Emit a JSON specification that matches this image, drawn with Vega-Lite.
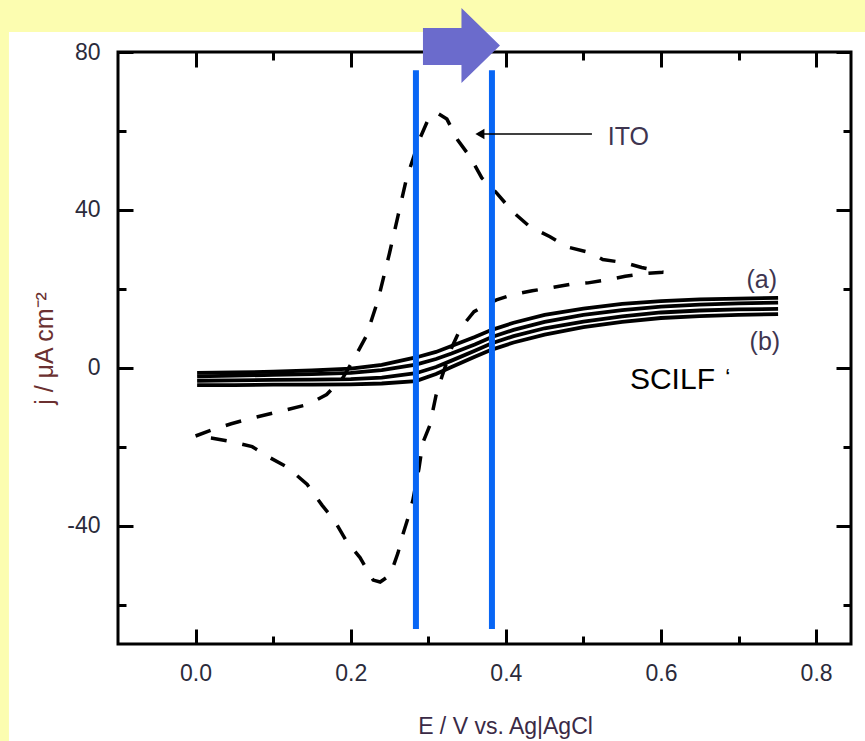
{
  "$schema": "https://vega.github.io/schema/vega-lite/v6.json",
  "width": 733,
  "height": 592,
  "autosize": "none",
  "padding": {"left": 118, "top": 52, "right": 14, "bottom": 97},
  "background": "#ffffff",
  "config": {
    "view": {"stroke": "#000000", "strokeWidth": 3, "fill": "#ffffff"},
    "font": "Liberation Sans"
  },
  "datasets": {
    "ito": [
      {"i": 0, "E": 0.000, "j": -17.3}, {"i": 1, "E": 0.022, "j": -15.7}, {"i": 2, "E": 0.046, "j": -14.2},
      {"i": 3, "E": 0.072, "j": -12.8}, {"i": 4, "E": 0.110, "j": -11.0}, {"i": 5, "E": 0.145, "j": -9.3},
      {"i": 6, "E": 0.169, "j": -6.8}, {"i": 7, "E": 0.190, "j": -2.5}, {"i": 8, "E": 0.205, "j": 2.5},
      {"i": 9, "E": 0.220, "j": 8.0}, {"i": 10, "E": 0.235, "j": 17.0}, {"i": 11, "E": 0.250, "j": 29.0},
      {"i": 12, "E": 0.261, "j": 38.5}, {"i": 13, "E": 0.272, "j": 48.0}, {"i": 14, "E": 0.289, "j": 58.0},
      {"i": 15, "E": 0.299, "j": 62.5}, {"i": 16, "E": 0.311, "j": 64.6}, {"i": 17, "E": 0.324, "j": 63.0},
      {"i": 18, "E": 0.338, "j": 57.7}, {"i": 19, "E": 0.354, "j": 53.4}, {"i": 20, "E": 0.369, "j": 48.1},
      {"i": 21, "E": 0.388, "j": 44.3}, {"i": 22, "E": 0.409, "j": 39.5}, {"i": 23, "E": 0.431, "j": 35.7},
      {"i": 24, "E": 0.457, "j": 33.2}, {"i": 25, "E": 0.479, "j": 30.6}, {"i": 26, "E": 0.508, "j": 29.2},
      {"i": 27, "E": 0.525, "j": 27.4}, {"i": 28, "E": 0.554, "j": 26.6}, {"i": 29, "E": 0.575, "j": 25.4},
      {"i": 30, "E": 0.603, "j": 24.2}, {"i": 31, "E": 0.580, "j": 23.9}, {"i": 32, "E": 0.554, "j": 23.2},
      {"i": 33, "E": 0.532, "j": 22.3}, {"i": 34, "E": 0.506, "j": 21.5}, {"i": 35, "E": 0.485, "j": 21.2},
      {"i": 36, "E": 0.459, "j": 20.3}, {"i": 37, "E": 0.434, "j": 19.5}, {"i": 38, "E": 0.408, "j": 18.5},
      {"i": 39, "E": 0.388, "j": 17.2}, {"i": 40, "E": 0.370, "j": 15.5}, {"i": 41, "E": 0.359, "j": 14.2},
      {"i": 42, "E": 0.342, "j": 10.1}, {"i": 43, "E": 0.330, "j": 5.0}, {"i": 44, "E": 0.318, "j": -2.0},
      {"i": 45, "E": 0.310, "j": -7.0}, {"i": 46, "E": 0.302, "j": -14.6}, {"i": 47, "E": 0.293, "j": -19.0},
      {"i": 48, "E": 0.288, "j": -25.5}, {"i": 49, "E": 0.280, "j": -33.7}, {"i": 50, "E": 0.274, "j": -38.0},
      {"i": 51, "E": 0.267, "j": -42.4}, {"i": 52, "E": 0.261, "j": -46.9}, {"i": 53, "E": 0.251, "j": -52.5},
      {"i": 54, "E": 0.238, "j": -54.3}, {"i": 55, "E": 0.229, "j": -53.8}, {"i": 56, "E": 0.212, "j": -48.1},
      {"i": 57, "E": 0.195, "j": -44.1}, {"i": 58, "E": 0.180, "j": -39.0}, {"i": 59, "E": 0.163, "j": -34.8},
      {"i": 60, "E": 0.144, "j": -29.6}, {"i": 61, "E": 0.119, "j": -25.3}, {"i": 62, "E": 0.096, "j": -22.8},
      {"i": 63, "E": 0.073, "j": -20.0}, {"i": 64, "E": 0.046, "j": -18.7}, {"i": 65, "E": 0.020, "j": -17.8},
      {"i": 66, "E": 0.000, "j": -17.3}
    ],
    "scilf": [
      {"s": "a1", "E": 0.002, "j": -1.3}, {"s": "a1", "E": 0.05, "j": -1.2}, {"s": "a1", "E": 0.1, "j": -1.0},
      {"s": "a1", "E": 0.15, "j": -0.7}, {"s": "a1", "E": 0.2, "j": -0.2}, {"s": "a1", "E": 0.24, "j": 0.7},
      {"s": "a1", "E": 0.284, "j": 2.6}, {"s": "a1", "E": 0.31, "j": 4.0}, {"s": "a1", "E": 0.33, "j": 5.5},
      {"s": "a1", "E": 0.36, "j": 7.8}, {"s": "a1", "E": 0.382, "j": 9.6}, {"s": "a1", "E": 0.41, "j": 11.4},
      {"s": "a1", "E": 0.45, "j": 13.4}, {"s": "a1", "E": 0.5, "j": 15.0}, {"s": "a1", "E": 0.55, "j": 16.2},
      {"s": "a1", "E": 0.6, "j": 16.9}, {"s": "a1", "E": 0.65, "j": 17.3}, {"s": "a1", "E": 0.7, "j": 17.5},
      {"s": "a1", "E": 0.751, "j": 17.7},
      {"s": "a2", "E": 0.002, "j": -2.2}, {"s": "a2", "E": 0.05, "j": -2.0}, {"s": "a2", "E": 0.1, "j": -1.8},
      {"s": "a2", "E": 0.15, "j": -1.6}, {"s": "a2", "E": 0.2, "j": -1.3}, {"s": "a2", "E": 0.24, "j": -0.6},
      {"s": "a2", "E": 0.284, "j": 0.8}, {"s": "a2", "E": 0.31, "j": 2.2}, {"s": "a2", "E": 0.33, "j": 3.6},
      {"s": "a2", "E": 0.36, "j": 5.9}, {"s": "a2", "E": 0.382, "j": 7.8}, {"s": "a2", "E": 0.41, "j": 9.6},
      {"s": "a2", "E": 0.45, "j": 11.6}, {"s": "a2", "E": 0.5, "j": 13.4}, {"s": "a2", "E": 0.55, "j": 14.6},
      {"s": "a2", "E": 0.6, "j": 15.5}, {"s": "a2", "E": 0.65, "j": 16.0}, {"s": "a2", "E": 0.7, "j": 16.3},
      {"s": "a2", "E": 0.751, "j": 16.5},
      {"s": "b1", "E": 0.002, "j": -3.3}, {"s": "b1", "E": 0.05, "j": -3.2}, {"s": "b1", "E": 0.1, "j": -3.1},
      {"s": "b1", "E": 0.15, "j": -3.0}, {"s": "b1", "E": 0.2, "j": -2.9}, {"s": "b1", "E": 0.24, "j": -2.5},
      {"s": "b1", "E": 0.284, "j": -1.4}, {"s": "b1", "E": 0.31, "j": 0.2}, {"s": "b1", "E": 0.33, "j": 1.8},
      {"s": "b1", "E": 0.36, "j": 4.3}, {"s": "b1", "E": 0.382, "j": 6.2}, {"s": "b1", "E": 0.41, "j": 8.0},
      {"s": "b1", "E": 0.45, "j": 10.0}, {"s": "b1", "E": 0.5, "j": 11.7}, {"s": "b1", "E": 0.55, "j": 13.0},
      {"s": "b1", "E": 0.6, "j": 14.0}, {"s": "b1", "E": 0.65, "j": 14.5}, {"s": "b1", "E": 0.7, "j": 14.8},
      {"s": "b1", "E": 0.751, "j": 14.9},
      {"s": "b2", "E": 0.002, "j": -4.4}, {"s": "b2", "E": 0.05, "j": -4.4}, {"s": "b2", "E": 0.1, "j": -4.3},
      {"s": "b2", "E": 0.15, "j": -4.3}, {"s": "b2", "E": 0.2, "j": -4.2}, {"s": "b2", "E": 0.24, "j": -4.0},
      {"s": "b2", "E": 0.284, "j": -3.4}, {"s": "b2", "E": 0.31, "j": -1.6}, {"s": "b2", "E": 0.33, "j": 0.2},
      {"s": "b2", "E": 0.36, "j": 2.8}, {"s": "b2", "E": 0.382, "j": 4.6}, {"s": "b2", "E": 0.41, "j": 6.4},
      {"s": "b2", "E": 0.45, "j": 8.4}, {"s": "b2", "E": 0.5, "j": 10.3}, {"s": "b2", "E": 0.55, "j": 11.6},
      {"s": "b2", "E": 0.6, "j": 12.6}, {"s": "b2", "E": 0.65, "j": 13.1}, {"s": "b2", "E": 0.7, "j": 13.4},
      {"s": "b2", "E": 0.751, "j": 13.6}
    ],
    "vlines": [
      {"E": 0.2841, "jTop": 75.4, "jBottom": -66.2},
      {"E": 0.3821, "jTop": 75.4, "jBottom": -66.2}
    ],
    "notes": [
      {"label": "ITO", "E": 0.558, "j": 58.5},
      {"label": "(a)", "E": 0.730, "j": 22.2},
      {"label": "(b)", "E": 0.734, "j": 6.5}
    ],
    "notes2": [
      {"label": "SCILF", "E": 0.560, "j": -3.1}
    ],
    "notes3": [
      {"label": "‘", "E": 0.686, "j": -2.2}
    ],
    "leader": [
      {"E": 0.370, "E2": 0.511, "j": 59.2}
    ],
    "arrowhead": [
      {"E": 0.3666, "j": 59.2}
    ],
    "bigarrow": [
      {"E": 0.3428, "j": 81.65}
    ]
  },
  "layer": [
    {
      "data": {"values": [{}]},
      "mark": {"type": "rect", "color": "#FCFDB0", "clip": false},
      "encoding": {
        "x": {"datum": -0.3, "type": "quantitative", "scale": {"domain": [-0.1, 0.845], "nice": false, "zero": false}, "axis": null},
        "x2": {"datum": 0.95},
        "y": {"datum": 100, "type": "quantitative", "scale": {"domain": [-70, 80], "nice": false, "zero": false}, "axis": null},
        "y2": {"datum": 85.08}
      }
    },
    {
      "data": {"values": [{}]},
      "mark": {"type": "rect", "color": "#FCFDB0", "clip": false},
      "encoding": {
        "x": {"datum": -0.3, "type": "quantitative", "axis": null},
        "x2": {"datum": -0.2406},
        "y": {"datum": 100, "type": "quantitative", "axis": null},
        "y2": {"datum": -110}
      }
    },
    {
      "data": {"name": "scilf"},
      "mark": {"type": "line", "color": "#000000", "strokeWidth": 3.8},
      "encoding": {
        "x": {"field": "E", "type": "quantitative", "scale": {"domain": [-0.1, 0.845], "nice": false, "zero": false},
          "axis": {
            "orient": "top", "values": [0, 0.1, 0.2, 0.3, 0.4, 0.5, 0.6, 0.7, 0.8],
            "labels": false, "domain": false, "grid": false, "title": null,
            "tickColor": "#000000", "tickWidth": 3,
            "tickSize": {"condition": {"test": "round(datum.value*10)%2==0", "value": -15}, "value": -8}
          }
        },
        "y": {"field": "j", "type": "quantitative", "scale": {"domain": [-70, 80], "nice": false, "zero": false},
          "axis": {
            "orient": "right", "values": [-60, -40, -20, 0, 20, 40, 60, 80],
            "labels": false, "domain": false, "grid": false, "title": null,
            "tickColor": "#000000", "tickWidth": 3,
            "tickSize": {"condition": {"test": "datum.value%40==0", "value": -15}, "value": -8}
          }
        },
        "detail": {"field": "s"}
      }
    },
    {
      "data": {"name": "ito"},
      "mark": {"type": "line", "color": "#000000", "strokeWidth": 3.5, "strokeDash": [16, 16]},
      "encoding": {
        "x": {"field": "E", "type": "quantitative", "scale": {"domain": [-0.1, 0.845], "nice": false, "zero": false},
          "axis": {
            "orient": "bottom", "values": [0, 0.1, 0.2, 0.3, 0.4, 0.5, 0.6, 0.7, 0.8],
            "labelExpr": "round(datum.value*10)%2==0 ? format(datum.value,'.1f') : ''",
            "domain": false, "grid": false,
            "tickColor": "#000000", "tickWidth": 3,
            "tickSize": {"condition": {"test": "round(datum.value*10)%2==0", "value": -15}, "value": -8},
            "labelPadding": 33, "labelFont": "Liberation Sans", "labelFontSize": 23, "labelColor": "#2b2b3b",
            "title": "E / V vs. Ag|AgCl", "titleFont": "Liberation Sans", "titleFontSize": 23,
            "titleFontWeight": "normal", "titleColor": "#3a2a46", "titlePadding": 30, "titleX": 387
          }
        },
        "y": {"field": "j", "type": "quantitative", "scale": {"domain": [-70, 80], "nice": false, "zero": false},
          "axis": {
            "orient": "left", "values": [-60, -40, -20, 0, 20, 40, 60, 80],
            "labelExpr": "datum.value%40==0 ? '' + datum.value : ''",
            "domain": false, "grid": false,
            "tickColor": "#000000", "tickWidth": 3,
            "tickSize": {"condition": {"test": "datum.value%40==0", "value": -15}, "value": -8},
            "labelPadding": 33, "labelFont": "Liberation Sans", "labelFontSize": 23, "labelColor": "#2b2b3b",
            "title": "j / μA cm⁻²", "titleFont": "Liberation Sans", "titleFontSize": 25,
            "titleFontWeight": "normal", "titleColor": "#6b3030", "titlePadding": 9
          }
        },
        "order": {"field": "i"}
      }
    },
    {
      "data": {"name": "vlines"},
      "mark": {"type": "rule", "color": "#0866F5", "strokeWidth": 6},
      "encoding": {
        "x": {"field": "E", "type": "quantitative", "axis": null},
        "y": {"field": "jTop", "type": "quantitative", "axis": null},
        "y2": {"field": "jBottom"}
      }
    },
    {
      "data": {"name": "leader"},
      "mark": {"type": "rule", "color": "#000000", "strokeWidth": 1.5},
      "encoding": {
        "x": {"field": "E", "type": "quantitative", "axis": null},
        "x2": {"field": "E2"},
        "y": {"field": "j", "type": "quantitative", "axis": null}
      }
    },
    {
      "data": {"name": "arrowhead"},
      "mark": {"type": "point", "shape": "triangle-left", "filled": true, "color": "#000000", "size": 110, "opacity": 1},
      "encoding": {
        "x": {"field": "E", "type": "quantitative", "axis": null},
        "y": {"field": "j", "type": "quantitative", "axis": null}
      }
    },
    {
      "data": {"name": "notes"},
      "mark": {"type": "text", "align": "center", "baseline": "middle", "font": "Liberation Sans", "fontSize": 25, "color": "#3e3550"},
      "encoding": {
        "x": {"field": "E", "type": "quantitative", "axis": null},
        "y": {"field": "j", "type": "quantitative", "axis": null},
        "text": {"field": "label"}
      }
    },
    {
      "data": {"name": "notes2"},
      "mark": {"type": "text", "align": "left", "baseline": "middle", "font": "Liberation Sans", "fontSize": 30, "color": "#000000"},
      "encoding": {
        "x": {"field": "E", "type": "quantitative", "axis": null},
        "y": {"field": "j", "type": "quantitative", "axis": null},
        "text": {"field": "label"}
      }
    },
    {
      "data": {"name": "notes3"},
      "mark": {"type": "text", "align": "center", "baseline": "middle", "font": "Liberation Sans", "fontSize": 16, "fontWeight": "bold", "color": "#000000"},
      "encoding": {
        "x": {"field": "E", "type": "quantitative", "axis": null},
        "y": {"field": "j", "type": "quantitative", "axis": null},
        "text": {"field": "label"}
      }
    },
    {
      "data": {"name": "bigarrow"},
      "mark": {"type": "point", "shape": "M-1,-0.455L0,-0.455L0,-0.974L1,0L0,0.974L0,0.506L-1,0.506Z", "filled": true, "color": "#6B6BCC", "size": 5929, "opacity": 1, "strokeWidth": 0},
      "encoding": {
        "x": {"field": "E", "type": "quantitative", "axis": null},
        "y": {"field": "j", "type": "quantitative", "axis": null}
      }
    }
  ]
}
